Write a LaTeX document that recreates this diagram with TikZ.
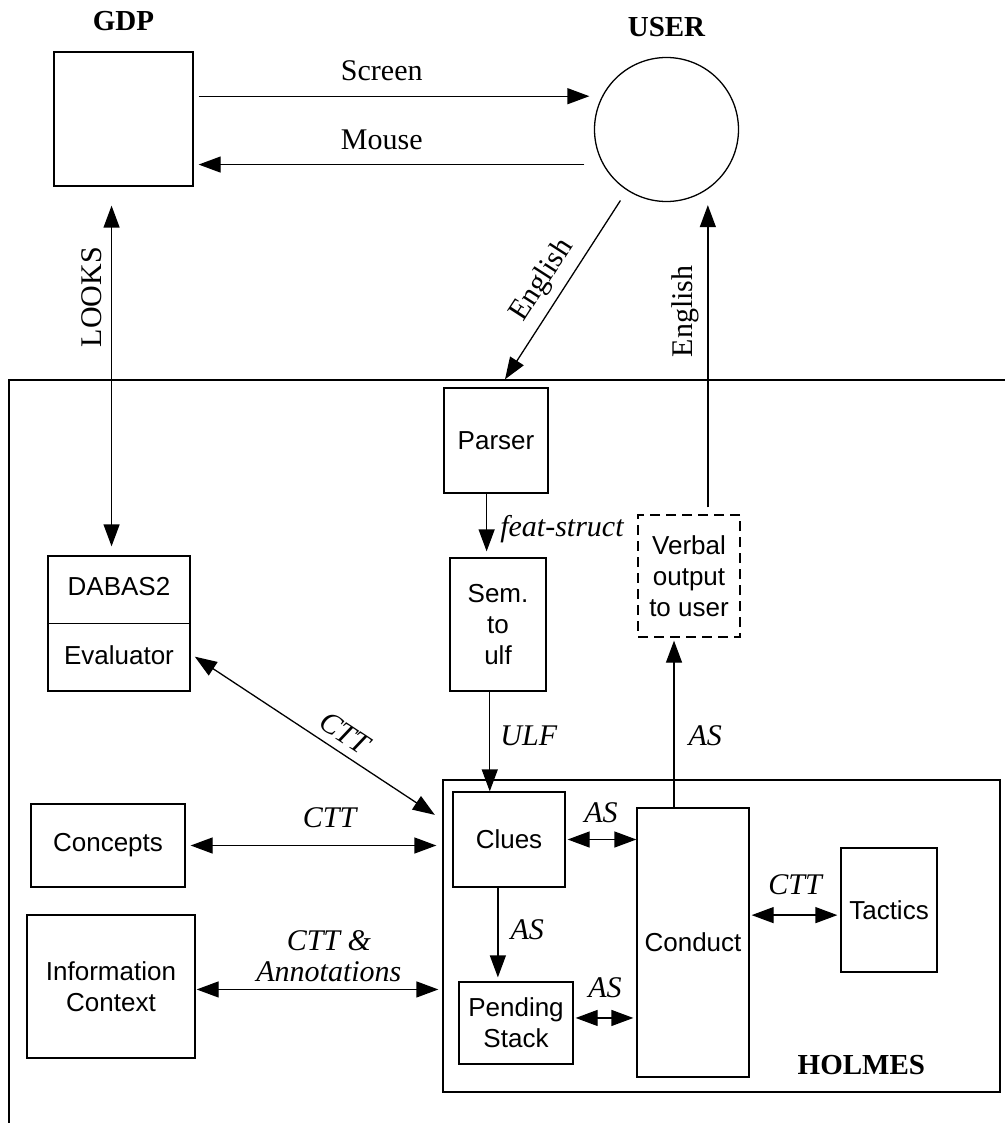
\documentclass[tikz,border=0pt]{standalone}
\usepackage{fontspec}
\setmainfont{Liberation Serif}
\setsansfont{Liberation Sans}
\usepackage{tikz}
\usetikzlibrary{}
\usetikzlibrary{positioning}
\usetikzlibrary{arrows.meta}

\begin{document}
\begin{tikzpicture}[x=1pt,y=-1pt,line width=1.3pt,
        box/.style={draw,rectangle,inner sep=0pt,align=center,
            font=\sffamily\fontsize{26}{31}\selectfont},
        boxtext/.style={inner sep=0pt,font=\sffamily\fontsize{26}{31}\selectfont},
        title/.style={inner sep=0pt,font=\bfseries\fontsize{29}{34}\selectfont},
        tag/.style={inner sep=0pt,font=\fontsize{30}{34}\selectfont},
        flowtag/.style={inner sep=0pt,align=center,font=\itshape\fontsize{30}{31}\selectfont},
        link/.style={-{Triangle[length=22pt,width=16pt]}},
        back/.style={{Triangle[length=22pt,width=16pt]}-},
        both/.style={{Triangle[length=22pt,width=16pt]}-{Triangle[length=22pt,width=16pt]}}]
        \useasboundingbox (0,0) rectangle (1005,1123);

        \node (gdp) [box,minimum width=139pt,minimum height=134pt] at (123.5,119) {};
        \node (user) [draw,circle,inner sep=0pt,minimum size=144pt] at (666.5,129.5) {};
        \node (gdplabel) [title,above=20pt of gdp] {GDP};
        \node (userlabel) [title,above=19pt of user] {USER};

        \draw (9,1123) -- (9,380) -- (1005,380);

        \node (parser) [box,minimum width=104pt,minimum height=105pt] at (496,440.5) {Parser};
        \node (sem) [box,minimum width=96pt,minimum height=133pt] at (498,624.5) {Sem.\\to\\ulf};
        \node (verbal) [box,dash pattern=on 10pt off 6pt,
            minimum width=102pt,minimum height=122pt] at (689,576) {Verbal\\output\\to user};
        \node (dabas) [box,minimum width=142pt,minimum height=135pt] at (119,623.5) {};
        \node (dabasname) [boxtext,below=21pt of dabas.north] {DABAS2};
        \node (evaluator) [boxtext,above=26pt of dabas.south] {Evaluator};
        \draw (dabas.west) -- (dabas.east);
        \node (concepts) [box,minimum width=154pt,minimum height=83pt] at (108,845.5) {Concepts};
        \node (info) [box,minimum width=168pt,minimum height=143pt] at (111,986.5) {Information\\Context};

        \node (holmes) [box,minimum width=557pt,minimum height=312pt] at (721.5,936) {};
        \node (holmeslabel) [title,above left=17pt and 75pt of holmes.south east] {HOLMES};
        \node (clues) [box,minimum width=112pt,minimum height=95pt] at (509,839.5) {Clues};
        \node (conduct) [box,minimum width=112pt,minimum height=269pt] at (693,942.5) {Conduct};
        \node (pending) [box,minimum width=114pt,minimum height=82pt] at (516,1023) {Pending\\Stack};
        \node (tactics) [box,minimum width=96pt,minimum height=124pt] at (889,910) {Tactics};

        \draw [link,shorten <=5pt,shorten >=4.5pt] (gdp.18) -- (gdp.18 -| user.west)
            node [tag,pos=0.47,above=15pt] {Screen};
        \draw [link,shorten <=9.5pt,shorten >=5pt] (gdp.-33 -| user.west) -- (gdp.-33)
            node [tag,pos=0.53,above=14pt] {Mouse};
        \draw [both,shorten <=19pt,shorten >=9pt] (gdp.260) -- (gdp.260 |- dabas.north)
            node [tag,pos=0.3,rotate=90,anchor=south,inner sep=9pt] {LOOKS};
        \draw [back,shorten >=12pt] ([xshift=9pt,yshift=8pt]parser.north) -- (user.237)
            node [tag,pos=0.46,sloped,above,inner sep=8pt] {English};
        \draw [link,shorten <=7pt,shorten >=3pt] (verbal.73) -- (verbal.73 |- user.south)
            node [tag,pos=0.65,rotate=90,anchor=south,inner sep=8pt] {English};

        \draw [link,shorten >=6pt] (parser.260) -- (parser.260 |- sem.north)
            node [flowtag,pos=0.55,right=13pt] {feat-struct};
        \draw [link] (sem.263) -- (sem.263 |- clues.north)
            node [flowtag,pos=0.44,right=10pt] {ULF};
        \draw [link,shorten >=3pt] (conduct.98) -- (conduct.98 |- verbal.south)
            node [flowtag,pos=0.42,right=14pt] {AS};

        \draw [both,shorten <=5pt,shorten >=21pt] (dabas.-23) -- (clues.167)
            node [flowtag,pos=0.55,sloped,above,inner sep=8pt] {CTT};
        \draw [both,shorten <=5pt,shorten >=16pt] (concepts.east) -- (concepts.east -| clues.west)
            node [flowtag,pos=0.54,above=17pt] {CTT};
        \draw [both,shorten <=1pt,shorten >=4pt] (info.358) -- (info.358 -| holmes.west)
            node [flowtag,pos=0.54,above=7pt] {CTT \&\\Annotations};

        \draw [both,shorten <=2pt] (clues.east) -- (clues.east -| conduct.west)
            node [flowtag,midway,above=16pt] {AS};
        \draw [link,shorten >=4pt] (clues.257) -- (clues.257 |- pending.north)
            node [flowtag,pos=0.45,right=12pt] {AS};
        \draw [both,shorten <=2pt,shorten >=3pt] (pending.5) -- (pending.5 -| conduct.west)
            node [flowtag,midway,above=20pt] {AS};
        \draw [both,shorten <=2pt,shorten >=3pt] (tactics.186 -| conduct.east) -- (tactics.186)
            node [flowtag,midway,above=20pt] {CTT};
\end{tikzpicture}
\end{document}
